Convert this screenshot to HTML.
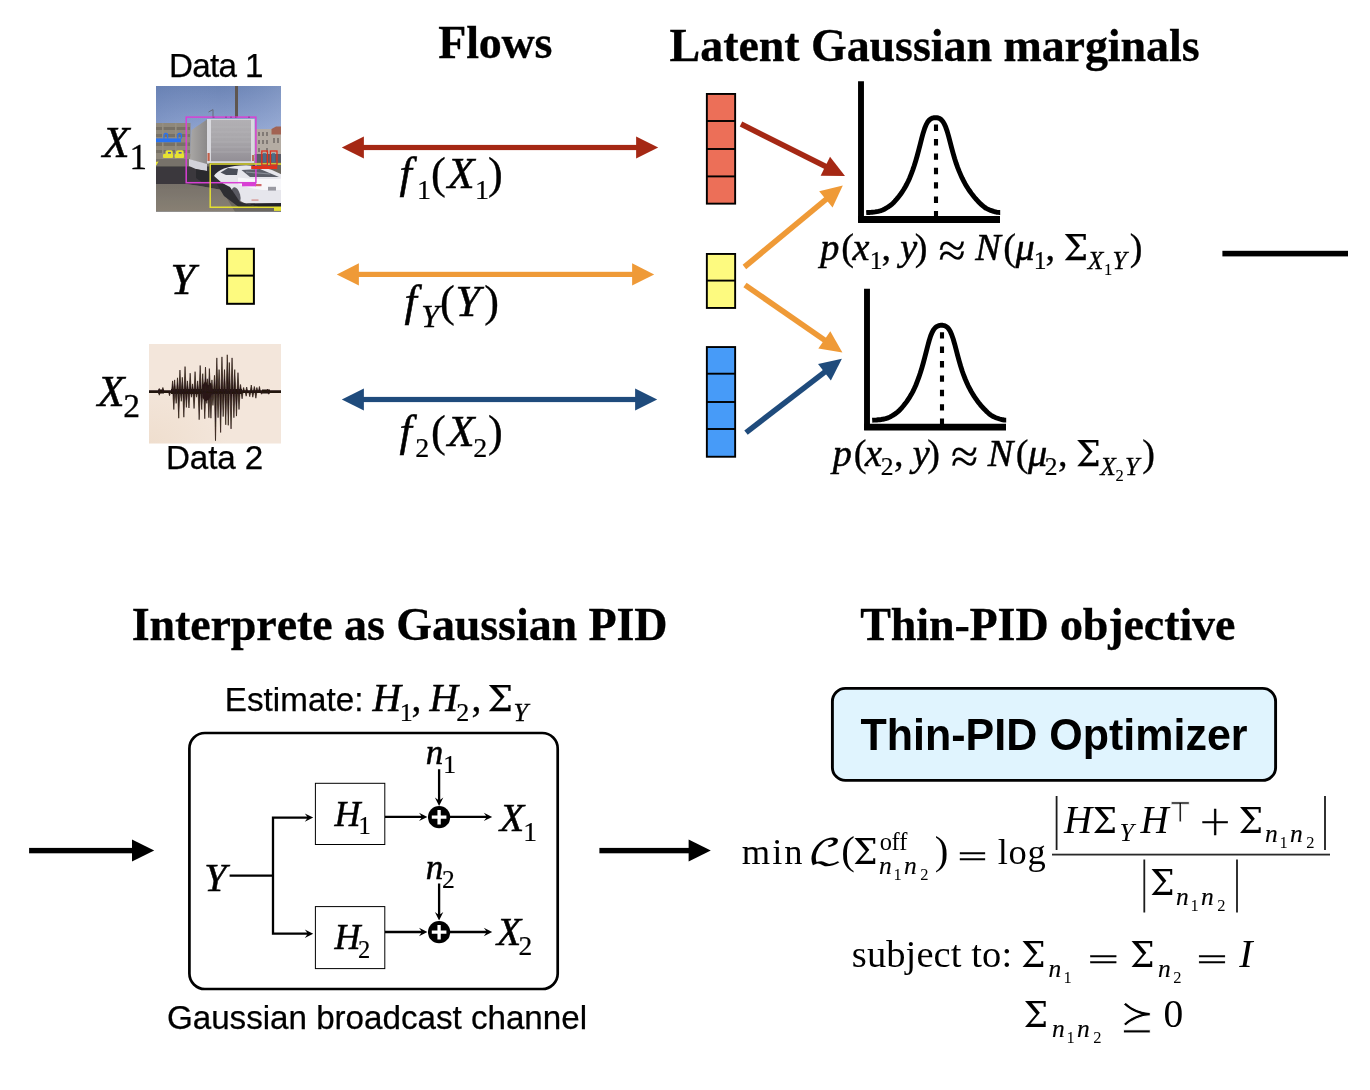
<!DOCTYPE html>
<html lang="en">
<head>
<meta charset="utf-8">
<title>Thin-PID pipeline</title>
<style>
html,body{margin:0;padding:0;background:#fff;}
body{width:1370px;height:1090px;overflow:hidden;}
svg{display:block;opacity:0.9999;}
text{fill:#000;white-space:pre;font-kerning:none;font-variant-ligatures:none;}
</style>
</head>
<body>
<svg width="1370" height="1090" viewBox="0 0 1370 1090">
<rect x="0" y="0" width="1370" height="1090" fill="#fff"/>
<defs>
<filter id="b1" x="-5%" y="-5%" width="110%" height="110%"><feGaussianBlur stdDeviation="0.7"/></filter>
<filter id="b0" x="-5%" y="-5%" width="110%" height="110%"><feGaussianBlur stdDeviation="0.35"/></filter>
<linearGradient id="sky" x1="0" y1="0" x2="0" y2="1"><stop offset="0" stop-color="#6c84b5"/><stop offset="0.3" stop-color="#8a9fcc"/><stop offset="0.5" stop-color="#a2b4da"/><stop offset="1" stop-color="#a2b4da"/></linearGradient>
<linearGradient id="skyh" x1="0" y1="0" x2="1" y2="0"><stop offset="0" stop-color="#5c78b0" stop-opacity="0.22"/><stop offset="0.5" stop-color="#8aa0cf" stop-opacity="0"/><stop offset="1" stop-color="#b4c4e4" stop-opacity="0.25"/></linearGradient>
<linearGradient id="gnd" x1="0" y1="0" x2="0" y2="1"><stop offset="0" stop-color="#77716a"/><stop offset="1" stop-color="#8b8375"/></linearGradient>
<linearGradient id="tback" x1="0" y1="0" x2="0" y2="1"><stop offset="0" stop-color="#b2b0b4"/><stop offset="0.5" stop-color="#a8a6aa"/><stop offset="1" stop-color="#938f96"/></linearGradient>
<linearGradient id="tside" x1="0" y1="0" x2="1" y2="0"><stop offset="0" stop-color="#a9a7a5"/><stop offset="1" stop-color="#8b8989"/></linearGradient>
<clipPath id="c1"><rect x="156" y="86" width="125" height="125.7"/></clipPath>
<clipPath id="c2"><rect x="149" y="344" width="132" height="99.7"/></clipPath>
<radialGradient id="wbg" cx="0" cy="1" r="0.6"><stop offset="0" stop-color="#efdece"/><stop offset="1" stop-color="#f3e6db"/></radialGradient>
</defs>
<text id="h1" ><tspan x="438.21" y="57.50" font-family='"Liberation Serif", serif' font-size="46.00" font-weight="bold" letter-spacing="-0.173" stroke="#000" stroke-width="0.30">Flows</tspan></text>
<text id="h2" ><tspan x="669.61" y="61.00" font-family='"Liberation Serif", serif' font-size="46.00" font-weight="bold" letter-spacing="-0.067" stroke="#000" stroke-width="0.30">Latent Gaussian marginals</tspan></text>
<text id="h3" ><tspan x="131.65" y="640.40" font-family='"Liberation Serif", serif' font-size="46.00" font-weight="bold" letter-spacing="-0.082" stroke="#000" stroke-width="0.30">Interprete as Gaussian PID</tspan></text>
<text id="h4" ><tspan x="860.18" y="640.40" font-family='"Liberation Serif", serif' font-size="46.00" font-weight="bold" letter-spacing="-0.100" stroke="#000" stroke-width="0.30">Thin-PID objective</tspan></text>
<text id="d1" ><tspan x="168.88" y="77.00" font-family='"Liberation Sans", sans-serif' font-size="33.20" letter-spacing="-0.654" stroke="#000" stroke-width="0.25">Data 1</tspan></text>
<text id="d2" ><tspan x="165.98" y="469.20" font-family='"Liberation Sans", sans-serif' font-size="33.20" letter-spacing="-0.085" stroke="#000" stroke-width="0.25">Data 2</tspan></text>
<text id="x1" ><tspan x="102.47" y="157.00" font-family='"Liberation Serif", serif' font-size="44.30" font-style="italic" stroke="#000" stroke-width="0.55">X</tspan><tspan x="129.42" y="169.00" font-family='"Liberation Serif", serif' font-size="35.00" stroke="#000" stroke-width="0.31">1</tspan></text>
<text id="yy" ><tspan x="170.46" y="293.90" font-family='"Liberation Serif", serif' font-size="44.50" font-style="italic" stroke="#000" stroke-width="0.55">Y</tspan></text>
<text id="x2" ><tspan x="97.47" y="406.00" font-family='"Liberation Serif", serif' font-size="44.30" font-style="italic" stroke="#000" stroke-width="0.55">X</tspan><tspan x="123.33" y="417.20" font-family='"Liberation Serif", serif' font-size="33.50" stroke="#000" stroke-width="0.29">2</tspan></text>
<g id="photo" clip-path="url(#c1)">
<rect x="156" y="86" width="125" height="126" fill="url(#sky)"/>
<rect x="156" y="86" width="125" height="126" fill="url(#skyh)"/>
<g filter="url(#b1)">
<rect x="150" y="154" width="135" height="62" fill="#6b665f"/>
<rect x="150" y="157" width="60" height="9.5" fill="#77726a"/>
<polygon points="150,166.5 212,166.5 212,176 222,190 200,186 186,184 150,184" fill="#3a383d"/>
<polygon points="150,184 186,184 200,186 222,190 235,212 150,216" fill="url(#gnd)"/>
<rect x="152" y="123" width="38.5" height="36" fill="#8f887a"/>
<g fill="#777166"><rect x="156" y="127" width="34" height="3"/><rect x="156" y="134" width="34" height="3"/><rect x="156" y="142.5" width="34" height="3.5"/><rect x="156" y="150" width="34" height="3"/></g>
<g fill="#958e80"><rect x="162" y="123" width="1.6" height="36"/><rect x="175" y="123" width="1.6" height="36"/><rect x="186" y="123" width="1.6" height="36"/></g>
<rect x="254.5" y="129" width="30" height="29" fill="#b4aca3"/>
<polygon points="271.5,129 276,126.5 285,126.5 285,134.5 271.5,134.5" fill="#a26452"/>
<g fill="#817a74"><rect x="258" y="132" width="2" height="4"/><rect x="262" y="132" width="2" height="4"/><rect x="266" y="132" width="2" height="4"/><rect x="258" y="140" width="2" height="4"/><rect x="262" y="140" width="2" height="4"/><rect x="266" y="140" width="2" height="4"/><rect x="273" y="138" width="2" height="5"/><rect x="277" y="138" width="2" height="5"/><rect x="258" y="148" width="2" height="4"/><rect x="266" y="148" width="2" height="4"/></g>
<rect x="254.5" y="154" width="30" height="8" fill="#5a5c66"/>
<rect x="235" y="84" width="3" height="33.5" fill="#5f5650"/>
<path d="M208.5,112 L213,109.6 L213,117" stroke="#66676f" stroke-width="0.9" fill="none"/>
<polygon points="191.5,130 207,119.5 207,164.5 190,159.5" fill="url(#tside)"/>
<polygon points="189,159 207,164 207,171 197,169.5 189,166" fill="#d2d2da"/>
<polygon points="196,169 209.5,171.5 209.5,181 203,183 196,178" fill="#2b2a2e"/>
<rect x="207" y="119" width="47.5" height="44.5" fill="#d9d9de"/>
<rect x="211" y="119.8" width="40" height="41.4" fill="url(#tback)"/>
<g stroke="#b9b8bc" stroke-width="0.6" opacity="0.7"><path d="M211,127 H251 M211,132 H251 M211,137 H251 M211,142 H251 M211,147 H251 M211,152 H251"/></g>
<rect x="207.5" y="153" width="2.2" height="8" fill="#c2604a"/>
<rect x="252" y="155" width="2" height="6" fill="#b8705e"/>
<rect x="209.5" y="163" width="45" height="21" fill="#2c2b30"/>
<path d="M214,176 Q217,171 224,168.5 Q236,164.8 250,165.4 Q262,166.2 272,170 L285,176 L285,203 L246,203.5 Q240,202 236,196 Q230,187 222,183 Q215,180 214,176 Z" fill="#e6e6ec"/>
<path d="M238,177.5 Q262,180 285,178.5 L285,190 L262,190 Q248,188 238,184 Z" fill="#f7f7fa"/>
<polygon points="220.5,172.5 228,168 238,169 237,175 226,175" fill="#4a4e58"/>
<polygon points="241.5,170 260,169 279,177 250,177" fill="#5b5f69"/>
<path d="M246,172 L270,174" stroke="#8a8e98" stroke-width="1.2"/>
<ellipse cx="236" cy="195.5" rx="4.2" ry="8.5" fill="#5a5a62" transform="rotate(-14 236 195.5)"/>
<rect x="255" y="184" width="6.5" height="2.2" fill="#d06a6a"/>
<rect x="251.5" y="199.3" width="7" height="1.6" fill="#d8a0a0"/>
<rect x="268" y="186.8" width="8" height="3.8" fill="#9a9aa2"/>
<polygon points="246,203.5 285,203 285,207 260,207.5" fill="#24232a"/>
<polygon points="212,176 214,176 222,183 230,187 236,196 240,202 246,203.5 260,207.5 240,208 224,196" fill="#2e2d33"/>
</g>
<g filter="url(#b0)" fill="none">
<rect x="186.2" y="117.1" width="69.7" height="65.6" stroke="#d840d4" stroke-width="1.5"/>
<rect x="242" y="182.5" width="14" height="3.8" fill="#d840d4" stroke="none"/>
<path d="M212.5,117.2 h2 M225,117.2 h2 M230,117.2 h2 M235,117.2 h1.5 M248,117.2 h2" stroke="#8a2c8a" stroke-width="0.8"/>
<path d="M282,163.9 L210.2,163.9 L210.2,207.3 L282,207.3" stroke="#e3df33" stroke-width="1.5"/>
<rect x="274" y="207.5" width="8" height="3.4" fill="#e3df33" stroke="none"/>
<rect x="155" y="138.4" width="26" height="3.8" fill="#2b73f0" stroke="none"/>
<path d="M164,138.5 v-3.2 a1.8,1.8 0 0 1 3.6,0 v3.2 M177.8,138.5 v-3.2 a1.8,1.8 0 0 1 3.6,0 v3.2" stroke="#2b73f0" stroke-width="1.3"/>
<g fill="#e6e232" stroke="none"><rect x="165.5" y="150.2" width="7.2" height="7.6" rx="1.6"/><rect x="163" y="154" width="10" height="4" rx="1"/><rect x="176" y="150.2" width="7.6" height="7.6" rx="1.6"/><rect x="174.6" y="154" width="9.4" height="4" rx="1"/><polygon points="155,162 158.6,161.5 156.5,165.2 155,165.2"/></g>
<g fill="#5a5ab0" stroke="none"><rect x="168" y="152" width="3" height="1.6"/><rect x="178.6" y="152" width="3" height="1.6"/></g>
<g fill="#4a7090" stroke="none" opacity="0.8"><rect x="263" y="153" width="3" height="9"/><rect x="272" y="153" width="3" height="9"/></g>
<rect x="261.8" y="151" width="5.6" height="14" stroke="#e0301f" stroke-width="1.3"/>
<rect x="270.4" y="151" width="6.6" height="14" stroke="#e0301f" stroke-width="1.3"/>
<rect x="251.2" y="166" width="26" height="3" fill="#e0301f" stroke="none"/>
</g>
</g>
<g id="ybox" stroke="#000" stroke-width="2.0" fill="#fdfa7f">
<rect x="227.10" y="248.80" width="26.80" height="55.00"/>
<line x1="227.10" y1="275.60" x2="253.90" y2="275.60"/>
</g>
<g id="wave" clip-path="url(#c2)">
<rect x="149" y="344" width="132" height="99.7" fill="url(#wbg)"/>
<g filter="url(#b0)">
<path d="M149,391.6 L281,391.6" stroke="#23140f" stroke-width="2.8" fill="none"/>
<path d="M158,391.6 L164,391.6 M262,391.6 L270,391.6" stroke="#23140f" stroke-width="4" fill="none"/>
<path d="M171,391.6 L242,391.6" stroke="#23140f" stroke-width="5" fill="none"/>
<path d="M202,386.6 L205.5,380.6 L208,385.6 L211,382.6 L213,391.6 L209,399.6 L205,401.6 L202.5,397.6 Z" fill="#2a1a14"/>
<path d="M158.26,391.6 L159.31,388.5 L160.36,391.6 Z M161.83,391.6 L162.88,387.5 L163.93,391.6 Z M171.54,391.6 L172.59,380.9 L173.64,391.6 Z M173.58,391.6 L174.63,379.9 L175.68,391.6 Z M176.45,391.6 L177.50,377.8 L178.55,391.6 Z M178.90,391.6 L179.95,370.1 L181.00,391.6 Z M181.25,391.6 L182.30,377.3 L183.35,391.6 Z M184.01,391.6 L185.06,366.6 L186.11,391.6 Z M186.36,391.6 L187.41,380.9 L188.46,391.6 Z M189.12,391.6 L190.17,373.2 L191.22,391.6 Z M191.47,391.6 L192.52,383.9 L193.57,391.6 Z M194.02,391.6 L195.07,371.7 L196.12,391.6 Z M196.58,391.6 L197.63,380.9 L198.68,391.6 Z M199.13,391.6 L200.18,365.5 L201.23,391.6 Z M201.69,391.6 L202.74,373.7 L203.79,391.6 Z M204.44,391.6 L205.49,367.1 L206.54,391.6 Z M206.28,391.6 L207.33,378.8 L208.38,391.6 Z M208.33,391.6 L209.38,368.6 L210.43,391.6 Z M210.88,391.6 L211.93,379.9 L212.98,391.6 Z M213.44,391.6 L214.49,375.3 L215.54,391.6 Z M215.79,391.6 L216.84,357.9 L217.89,391.6 Z M218.04,391.6 L219.09,369.6 L220.14,391.6 Z M220.90,391.6 L221.95,356.9 L223.00,391.6 Z M223.45,391.6 L224.50,369.6 L225.55,391.6 Z M226.21,391.6 L227.26,354.8 L228.31,391.6 Z M228.25,391.6 L229.30,362.5 L230.35,391.6 Z M231.01,391.6 L232.06,357.9 L233.11,391.6 Z M233.67,391.6 L234.72,369.6 L235.77,391.6 Z M236.94,391.6 L237.99,372.7 L239.04,391.6 Z M239.49,391.6 L240.54,384.5 L241.59,391.6 Z M242.56,391.6 L243.61,387.5 L244.66,391.6 Z M245.63,391.6 L246.68,387.0 L247.73,391.6 Z M250.22,391.6 L251.27,385.0 L252.32,391.6 Z M253.29,391.6 L254.34,386.5 L255.39,391.6 Z M255.84,391.6 L256.89,387.5 L257.94,391.6 Z M258.40,391.6 L259.45,386.5 L260.50,391.6 Z M266.57,391.6 L267.62,389.0 L268.67,391.6 Z M158.26,391.6 L159.31,395.2 L160.36,391.6 Z M168.47,391.6 L169.52,395.7 L170.57,391.6 Z M172.77,391.6 L173.82,409.5 L174.87,391.6 Z M175.12,391.6 L176.17,403.4 L177.22,391.6 Z M177.67,391.6 L178.72,418.2 L179.77,391.6 Z M180.23,391.6 L181.28,401.3 L182.33,391.6 Z M182.78,391.6 L183.83,417.2 L184.88,391.6 Z M185.34,391.6 L186.39,407.4 L187.44,391.6 Z M187.89,391.6 L188.94,408.0 L189.99,391.6 Z M190.44,391.6 L191.49,397.2 L192.54,391.6 Z M193.00,391.6 L194.05,408.5 L195.10,391.6 Z M195.55,391.6 L196.60,397.2 L197.65,391.6 Z M198.11,391.6 L199.16,419.7 L200.21,391.6 Z M200.66,391.6 L201.71,409.5 L202.76,391.6 Z M203.73,391.6 L204.78,418.7 L205.83,391.6 Z M205.77,391.6 L206.82,403.4 L207.87,391.6 Z M207.82,391.6 L208.87,417.7 L209.92,391.6 Z M209.86,391.6 L210.91,418.2 L211.96,391.6 Z M211.90,391.6 L212.95,405.4 L214.00,391.6 Z M214.46,391.6 L215.51,440.7 L216.56,391.6 Z M217.01,391.6 L218.06,417.7 L219.11,391.6 Z M219.57,391.6 L220.62,432.5 L221.67,391.6 Z M222.12,391.6 L223.17,416.6 L224.22,391.6 Z M224.68,391.6 L225.73,424.8 L226.78,391.6 Z M227.23,391.6 L228.28,425.3 L229.33,391.6 Z M229.99,391.6 L231.04,428.9 L232.09,391.6 Z M232.85,391.6 L233.90,417.7 L234.95,391.6 Z M235.41,391.6 L236.46,416.1 L237.51,391.6 Z M237.96,391.6 L239.01,409.5 L240.06,391.6 Z M241.03,391.6 L242.08,398.8 L243.13,391.6 Z M245.11,391.6 L246.16,396.2 L247.21,391.6 Z M248.69,391.6 L249.74,396.7 L250.79,391.6 Z M251.76,391.6 L252.81,397.2 L253.86,391.6 Z M254.82,391.6 L255.87,398.2 L256.92,391.6 Z M260.44,391.6 L261.49,394.2 L262.54,391.6 Z M267.60,391.6 L268.65,394.2 L269.70,391.6 Z" fill="#2a1a14" stroke="#2a1a14" stroke-width="0.7" stroke-linejoin="round"/>
</g>
</g>
<g id="ar1" fill="#a52814"><rect x="362.90" y="144.90" width="274.20" height="5.2"/><polygon points="341.8,147.5 363.90000000000003,136.4 363.90000000000003,158.6"/><polygon points="658.2,147.5 636.1,136.4 636.1,158.6"/></g>
<g id="ar2" fill="#ef9a37"><rect x="357.90" y="271.80" width="275.20" height="5.2"/><polygon points="336.8,274.4 358.90000000000003,263.29999999999995 358.90000000000003,285.5"/><polygon points="654.2,274.4 632.1,263.29999999999995 632.1,285.5"/></g>
<g id="ar3" fill="#1f4b7c"><rect x="362.90" y="396.90" width="273.20" height="5.2"/><polygon points="341.8,399.5 363.90000000000003,388.4 363.90000000000003,410.6"/><polygon points="657.2,399.5 635.1,388.4 635.1,410.6"/></g>
<text id="f1" ><tspan x="399.50" y="187.50" font-family='"Liberation Serif", serif' font-size="44.30" font-style="italic" stroke="#000" stroke-width="0.55">f</tspan><tspan x="417.04" y="199.00" font-family='"Liberation Serif", serif' font-size="28.00" stroke="#000" stroke-width="0.24">1</tspan><tspan x="431.05" y="187.50" font-family='"Liberation Serif", serif' font-size="44.30" stroke="#000" stroke-width="0.35">(</tspan><tspan x="447.47" y="187.50" font-family='"Liberation Serif", serif' font-size="44.30" font-style="italic" stroke="#000" stroke-width="0.55">X</tspan><tspan x="475.04" y="199.00" font-family='"Liberation Serif", serif' font-size="28.00" stroke="#000" stroke-width="0.24">1</tspan><tspan x="488.07" y="187.50" font-family='"Liberation Serif", serif' font-size="44.30" stroke="#000" stroke-width="0.35">)</tspan></text>
<text id="fy" ><tspan x="404.50" y="316.00" font-family='"Liberation Serif", serif' font-size="44.30" font-style="italic" stroke="#000" stroke-width="0.55">f</tspan><tspan x="421.17" y="327.00" font-family='"Liberation Serif", serif' font-size="32.00" font-style="italic" stroke="#000" stroke-width="0.44">Y</tspan><tspan x="440.05" y="316.00" font-family='"Liberation Serif", serif' font-size="44.30" stroke="#000" stroke-width="0.35">(</tspan><tspan x="455.47" y="316.00" font-family='"Liberation Serif", serif' font-size="44.30" font-style="italic" stroke="#000" stroke-width="0.55">Y</tspan><tspan x="484.17" y="316.00" font-family='"Liberation Serif", serif' font-size="44.30" stroke="#000" stroke-width="0.35">)</tspan></text>
<text id="f2" ><tspan x="399.50" y="445.50" font-family='"Liberation Serif", serif' font-size="44.30" font-style="italic" stroke="#000" stroke-width="0.55">f</tspan><tspan x="415.27" y="456.50" font-family='"Liberation Serif", serif' font-size="28.00" stroke="#000" stroke-width="0.24">2</tspan><tspan x="431.05" y="445.50" font-family='"Liberation Serif", serif' font-size="44.30" stroke="#000" stroke-width="0.35">(</tspan><tspan x="447.47" y="445.50" font-family='"Liberation Serif", serif' font-size="44.30" font-style="italic" stroke="#000" stroke-width="0.55">X</tspan><tspan x="473.27" y="456.50" font-family='"Liberation Serif", serif' font-size="28.00" stroke="#000" stroke-width="0.24">2</tspan><tspan x="488.07" y="445.50" font-family='"Liberation Serif", serif' font-size="44.30" stroke="#000" stroke-width="0.35">)</tspan></text>
<g id="v1" stroke="#000" stroke-width="1.9" fill="#ec6f58">
<rect x="706.85" y="93.95" width="28.30" height="109.70"/>
<line x1="706.85" y1="121.00" x2="735.15" y2="121.00"/>
<line x1="706.85" y1="149.00" x2="735.15" y2="149.00"/>
<line x1="706.85" y1="176.40" x2="735.15" y2="176.40"/>
</g>
<g id="v2" stroke="#000" stroke-width="1.9" fill="#fdfa7f">
<rect x="706.85" y="253.95" width="28.30" height="54.00"/>
<line x1="706.85" y1="280.60" x2="735.15" y2="280.60"/>
</g>
<g id="v3" stroke="#000" stroke-width="1.9" fill="#479bf8">
<rect x="706.85" y="347.05" width="28.30" height="109.70"/>
<line x1="706.85" y1="373.70" x2="735.15" y2="373.70"/>
<line x1="706.85" y1="402.00" x2="735.15" y2="402.00"/>
<line x1="706.85" y1="429.00" x2="735.15" y2="429.00"/>
</g>
<g id="a1"><line x1="741.00" y1="124.00" x2="826.22" y2="166.69" stroke="#a52814" stroke-width="5.6"/><polygon points="845.00,176.10 820.63,175.63 830.03,156.86" fill="#a52814"/></g>
<g id="a2"><line x1="744.40" y1="267.00" x2="826.64" y2="198.81" stroke="#ef9a37" stroke-width="5.6"/><polygon points="842.80,185.40 832.57,207.53 819.16,191.36" fill="#ef9a37"/></g>
<g id="a3"><line x1="745.00" y1="285.00" x2="825.14" y2="340.54" stroke="#ef9a37" stroke-width="5.6"/><polygon points="842.40,352.50 818.34,348.60 830.30,331.34" fill="#ef9a37"/></g>
<g id="a4"><line x1="746.00" y1="432.60" x2="825.26" y2="371.61" stroke="#1f4b7c" stroke-width="5.6"/><polygon points="841.90,358.80 830.87,380.54 818.06,363.90" fill="#1f4b7c"/></g>
<g id="p1" transform="translate(0,0)" fill="none" stroke="#000">
<path d="M861,81.2 L861,219.5 L1000,219.5" stroke-width="5.9" stroke-linejoin="miter"/>
<path d="M858.1,219.5 L1000,219.5" stroke-width="6.8"/>
<path d="M866.2,212.6 L867.7,212.5 L869.2,212.5 L870.7,212.4 L872.2,212.2 L873.7,212.1 L875.2,211.9 L876.7,211.6 L878.2,211.4 L879.7,211.0 L881.2,210.6 L882.7,210.0 L884.2,209.3 L885.7,208.4 L887.2,207.5 L888.7,206.6 L890.2,205.5 L891.7,204.3 L893.2,203.0 L894.7,201.4 L896.2,199.7 L897.7,197.9 L899.2,196.0 L900.7,194.0 L902.2,191.8 L903.7,189.5 L905.2,187.0 L906.7,184.3 L908.2,181.2 L909.7,177.9 L911.2,174.1 L912.7,170.1 L914.2,165.7 L915.7,160.9 L917.2,155.7 L918.7,150.1 L920.2,144.3 L921.7,138.4 L923.2,132.9 L924.7,128.2 L926.2,124.6 L927.7,121.9 L929.2,120.1 L930.7,119.0 L932.2,118.2 L933.7,117.8 L935.2,117.6 L936.7,117.7 L938.2,118.0 L939.7,118.6 L941.2,119.6 L942.7,121.3 L944.2,123.7 L945.7,127.1 L947.2,131.4 L948.7,136.6 L950.2,142.3 L951.7,148.1 L953.2,153.6 L954.7,158.7 L956.2,163.4 L957.7,167.6 L959.2,171.4 L960.7,174.9 L962.2,178.2 L963.7,181.1 L965.2,183.9 L966.7,186.4 L968.2,188.8 L969.7,191.0 L971.2,193.1 L972.7,195.1 L974.2,197.0 L975.7,198.8 L977.2,200.4 L978.7,202.0 L980.2,203.5 L981.7,204.9 L983.2,206.2 L984.7,207.4 L986.2,208.4 L987.7,209.1 L989.2,209.8 L990.7,210.4 L992.2,210.9 L993.7,211.4 L995.2,211.8 L996.7,212.2 L998.2,212.4 L999.7,212.5 L1000.2,212.5" stroke-width="4.9" stroke-linejoin="round"/>
<path d="M936,124.6 L936,217" stroke-width="4.1" stroke-dasharray="6.4 8"/>
</g>
<g id="p2" transform="translate(6,207.6)" fill="none" stroke="#000">
<path d="M861,81.2 L861,219.5 L1000,219.5" stroke-width="5.9" stroke-linejoin="miter"/>
<path d="M858.1,219.5 L1000,219.5" stroke-width="6.8"/>
<path d="M866.2,212.6 L867.7,212.5 L869.2,212.5 L870.7,212.4 L872.2,212.2 L873.7,212.1 L875.2,211.9 L876.7,211.6 L878.2,211.4 L879.7,211.0 L881.2,210.6 L882.7,210.0 L884.2,209.3 L885.7,208.4 L887.2,207.5 L888.7,206.6 L890.2,205.5 L891.7,204.3 L893.2,203.0 L894.7,201.4 L896.2,199.7 L897.7,197.9 L899.2,196.0 L900.7,194.0 L902.2,191.8 L903.7,189.5 L905.2,187.0 L906.7,184.3 L908.2,181.2 L909.7,177.9 L911.2,174.1 L912.7,170.1 L914.2,165.7 L915.7,160.9 L917.2,155.7 L918.7,150.1 L920.2,144.3 L921.7,138.4 L923.2,132.9 L924.7,128.2 L926.2,124.6 L927.7,121.9 L929.2,120.1 L930.7,119.0 L932.2,118.2 L933.7,117.8 L935.2,117.6 L936.7,117.7 L938.2,118.0 L939.7,118.6 L941.2,119.6 L942.7,121.3 L944.2,123.7 L945.7,127.1 L947.2,131.4 L948.7,136.6 L950.2,142.3 L951.7,148.1 L953.2,153.6 L954.7,158.7 L956.2,163.4 L957.7,167.6 L959.2,171.4 L960.7,174.9 L962.2,178.2 L963.7,181.1 L965.2,183.9 L966.7,186.4 L968.2,188.8 L969.7,191.0 L971.2,193.1 L972.7,195.1 L974.2,197.0 L975.7,198.8 L977.2,200.4 L978.7,202.0 L980.2,203.5 L981.7,204.9 L983.2,206.2 L984.7,207.4 L986.2,208.4 L987.7,209.1 L989.2,209.8 L990.7,210.4 L992.2,210.9 L993.7,211.4 L995.2,211.8 L996.7,212.2 L998.2,212.4 L999.7,212.5 L1000.2,212.5" stroke-width="4.9" stroke-linejoin="round"/>
<path d="M936,124.6 L936,217" stroke-width="4.1" stroke-dasharray="6.4 8"/>
</g>
<text id="pl1" ><tspan x="820.24" y="260.00" font-family='"Liberation Serif", serif' font-size="38.20" font-style="italic" stroke="#000" stroke-width="0.53">p</tspan><tspan x="841.32" y="260.00" font-family='"Liberation Serif", serif' font-size="38.20" stroke="#000" stroke-width="0.33">(</tspan><tspan x="852.47" y="260.00" font-family='"Liberation Serif", serif' font-size="38.20" font-style="italic" stroke="#000" stroke-width="0.53">x</tspan><tspan x="869.76" y="269.00" font-family='"Liberation Serif", serif' font-size="25.50" stroke="#000" stroke-width="0.22">1</tspan><tspan x="881.55" y="260.00" font-family='"Liberation Serif", serif' font-size="38.20" stroke="#000" stroke-width="0.33">,</tspan><tspan x="890.00" y="260.00" font-family='"Liberation Serif", serif' font-size="38.20"> </tspan><tspan x="900.19" y="260.00" font-family='"Liberation Serif", serif' font-size="38.20" font-style="italic" stroke="#000" stroke-width="0.53">y</tspan><tspan x="914.77" y="260.00" font-family='"Liberation Serif", serif' font-size="38.20" stroke="#000" stroke-width="0.33">)</tspan><tspan x="930.00" y="260.00" font-family='"Liberation Serif", serif' font-size="38.20"> </tspan><tspan x="938.62" y="267.40" font-family='"Liberation Serif", serif' font-size="49.55" stroke="#000" stroke-width="0.20">≈</tspan><tspan x="966.00" y="260.00" font-family='"Liberation Serif", serif' font-size="38.20"> </tspan><tspan x="975.28" y="260.00" font-family='"Liberation Serif", serif' font-size="38.20" font-style="italic" stroke="#000" stroke-width="0.53">N</tspan><tspan x="1003.32" y="260.00" font-family='"Liberation Serif", serif' font-size="38.20" stroke="#000" stroke-width="0.33">(</tspan><tspan x="1015.54" y="260.00" font-family='"Liberation Serif", serif' font-size="38.20" font-style="italic" stroke="#000" stroke-width="0.53">μ</tspan><tspan x="1033.76" y="269.00" font-family='"Liberation Serif", serif' font-size="25.50" stroke="#000" stroke-width="0.22">1</tspan><tspan x="1045.55" y="260.00" font-family='"Liberation Serif", serif' font-size="38.20" stroke="#000" stroke-width="0.33">,</tspan><tspan x="1055.00" y="260.00" font-family='"Liberation Serif", serif' font-size="38.20"> </tspan><tspan x="1062.23" y="260.00" font-family='"DejaVu Math TeX Gyre", "DejaVu Sans", serif' font-size="34.57" stroke="#000" stroke-width="0.25">Σ</tspan><tspan x="1087.85" y="269.00" font-family='"Liberation Serif", serif' font-size="25.50" font-style="italic" stroke="#000" stroke-width="0.35">X</tspan><tspan x="1103.95" y="275.00" font-family='"Liberation Serif", serif' font-size="16.50" stroke="#000" stroke-width="0.14">1</tspan><tspan x="1112.54" y="269.00" font-family='"Liberation Serif", serif' font-size="25.50" font-style="italic" stroke="#000" stroke-width="0.35">Y</tspan><tspan x="1129.77" y="260.00" font-family='"Liberation Serif", serif' font-size="38.20" stroke="#000" stroke-width="0.33">)</tspan></text>
<text id="pl2" ><tspan x="832.74" y="466.00" font-family='"Liberation Serif", serif' font-size="38.20" font-style="italic" stroke="#000" stroke-width="0.53">p</tspan><tspan x="853.82" y="466.00" font-family='"Liberation Serif", serif' font-size="38.20" stroke="#000" stroke-width="0.33">(</tspan><tspan x="864.97" y="466.00" font-family='"Liberation Serif", serif' font-size="38.20" font-style="italic" stroke="#000" stroke-width="0.53">x</tspan><tspan x="880.78" y="475.00" font-family='"Liberation Serif", serif' font-size="25.50" stroke="#000" stroke-width="0.22">2</tspan><tspan x="894.05" y="466.00" font-family='"Liberation Serif", serif' font-size="38.20" stroke="#000" stroke-width="0.33">,</tspan><tspan x="902.50" y="466.00" font-family='"Liberation Serif", serif' font-size="38.20"> </tspan><tspan x="912.69" y="466.00" font-family='"Liberation Serif", serif' font-size="38.20" font-style="italic" stroke="#000" stroke-width="0.53">y</tspan><tspan x="927.27" y="466.00" font-family='"Liberation Serif", serif' font-size="38.20" stroke="#000" stroke-width="0.33">)</tspan><tspan x="942.50" y="466.00" font-family='"Liberation Serif", serif' font-size="38.20"> </tspan><tspan x="951.12" y="473.40" font-family='"Liberation Serif", serif' font-size="49.55" stroke="#000" stroke-width="0.20">≈</tspan><tspan x="978.50" y="466.00" font-family='"Liberation Serif", serif' font-size="38.20"> </tspan><tspan x="987.78" y="466.00" font-family='"Liberation Serif", serif' font-size="38.20" font-style="italic" stroke="#000" stroke-width="0.53">N</tspan><tspan x="1015.82" y="466.00" font-family='"Liberation Serif", serif' font-size="38.20" stroke="#000" stroke-width="0.33">(</tspan><tspan x="1028.04" y="466.00" font-family='"Liberation Serif", serif' font-size="38.20" font-style="italic" stroke="#000" stroke-width="0.53">μ</tspan><tspan x="1044.78" y="475.00" font-family='"Liberation Serif", serif' font-size="25.50" stroke="#000" stroke-width="0.22">2</tspan><tspan x="1058.05" y="466.00" font-family='"Liberation Serif", serif' font-size="38.20" stroke="#000" stroke-width="0.33">,</tspan><tspan x="1067.50" y="466.00" font-family='"Liberation Serif", serif' font-size="38.20"> </tspan><tspan x="1074.73" y="466.00" font-family='"DejaVu Math TeX Gyre", "DejaVu Sans", serif' font-size="34.57" stroke="#000" stroke-width="0.25">Σ</tspan><tspan x="1100.35" y="475.00" font-family='"Liberation Serif", serif' font-size="25.50" font-style="italic" stroke="#000" stroke-width="0.35">X</tspan><tspan x="1115.61" y="481.00" font-family='"Liberation Serif", serif' font-size="16.50" stroke="#000" stroke-width="0.14">2</tspan><tspan x="1125.04" y="475.00" font-family='"Liberation Serif", serif' font-size="25.50" font-style="italic" stroke="#000" stroke-width="0.35">Y</tspan><tspan x="1142.27" y="466.00" font-family='"Liberation Serif", serif' font-size="38.20" stroke="#000" stroke-width="0.33">)</tspan></text>
<rect id="rline" x="1222.4" y="250.8" width="125.6" height="5.6" fill="#000"/>
<g id="ba1" fill="#000"><rect x="29.1" y="847.9" width="103.9" height="5.4"/><polygon points="154.2,850.6 132.0,839.6 132.0,861.6"/></g>
<g id="ba2" fill="#000"><rect x="599.4" y="847.9" width="90.19999999999993" height="5.4"/><polygon points="710.8,850.6 688.5999999999999,839.6 688.5999999999999,861.6"/></g>
<text id="est" ><tspan x="224.68" y="711.00" font-family='"Liberation Sans", sans-serif' font-size="33.20" letter-spacing="0.072" stroke="#000" stroke-width="0.25">Estimate:</tspan><tspan x="362.00" y="711.00" font-family='"Liberation Sans", sans-serif' font-size="33.20"> </tspan><tspan x="372.42" y="711.00" font-family='"Liberation Serif", serif' font-size="39.50" font-style="italic" stroke="#000" stroke-width="0.54">H</tspan><tspan x="399.71" y="720.60" font-family='"Liberation Serif", serif' font-size="26.00" stroke="#000" stroke-width="0.23">1</tspan><tspan x="411.50" y="711.00" font-family='"Liberation Serif", serif' font-size="39.50" stroke="#000" stroke-width="0.35">,</tspan><tspan x="420.00" y="711.00" font-family='"Liberation Serif", serif' font-size="39.50"> </tspan><tspan x="429.42" y="711.00" font-family='"Liberation Serif", serif' font-size="39.50" font-style="italic" stroke="#000" stroke-width="0.54">H</tspan><tspan x="456.36" y="720.60" font-family='"Liberation Serif", serif' font-size="26.00" stroke="#000" stroke-width="0.23">2</tspan><tspan x="471.50" y="711.00" font-family='"Liberation Serif", serif' font-size="39.50" stroke="#000" stroke-width="0.35">,</tspan><tspan x="480.00" y="711.00" font-family='"Liberation Serif", serif' font-size="39.50"> </tspan><tspan x="486.15" y="711.00" font-family='"DejaVu Math TeX Gyre", "DejaVu Sans", serif' font-size="35.67" stroke="#000" stroke-width="0.25">Σ</tspan><tspan x="513.51" y="720.60" font-family='"Liberation Serif", serif' font-size="26.00" font-style="italic" stroke="#000" stroke-width="0.36">Y</tspan></text>
<text id="gbc" ><tspan x="166.93" y="1029.00" font-family='"Liberation Sans", sans-serif' font-size="33.20" letter-spacing="-0.021" stroke="#000" stroke-width="0.25">Gaussian broadcast channel</tspan></text>
<rect id="cbox" x="189.4" y="733" width="368.3" height="256" rx="15.5" ry="15.5" fill="none" stroke="#000" stroke-width="2.7"/>
<g id="chan" fill="none" stroke="#000" stroke-width="2.3">
<rect x="315.4" y="783.3" width="69.4" height="61.2" stroke-width="1"/>
<rect x="315.4" y="906.6" width="69.4" height="62" stroke-width="1"/>
<path d="M229.6,875.7 L273,875.7"/>
<path d="M308,817.6 L273,817.6 L273,933.7 L308,933.7" stroke-linejoin="miter"/>
<path d="M385,816.9 L422,816.9 M450,816.9 L487,816.9"/>
<path d="M385,932 L422,932 M450,932 L487,932"/>
<path d="M439.1,769.2 L439.1,801 M439.1,883.6 L439.1,915"/>
</g>
<g id="heads" fill="#000">
<path transform="translate(313.2,817.6) rotate(0)" d="M0,0 L-8.4,-4.2 Q-6.2,-1.6 -5.6,0 Q-6.2,1.6 -8.4,4.2 Z"/>
<path transform="translate(313.2,933.7) rotate(0)" d="M0,0 L-8.4,-4.2 Q-6.2,-1.6 -5.6,0 Q-6.2,1.6 -8.4,4.2 Z"/>
<path transform="translate(427.4,816.9) rotate(0)" d="M0,0 L-8.4,-4.2 Q-6.2,-1.6 -5.6,0 Q-6.2,1.6 -8.4,4.2 Z"/>
<path transform="translate(427.4,932) rotate(0)" d="M0,0 L-8.4,-4.2 Q-6.2,-1.6 -5.6,0 Q-6.2,1.6 -8.4,4.2 Z"/>
<path transform="translate(492.2,816.9) rotate(0)" d="M0,0 L-8.4,-4.2 Q-6.2,-1.6 -5.6,0 Q-6.2,1.6 -8.4,4.2 Z"/>
<path transform="translate(492.2,932) rotate(0)" d="M0,0 L-8.4,-4.2 Q-6.2,-1.6 -5.6,0 Q-6.2,1.6 -8.4,4.2 Z"/>
<path transform="translate(439.1,805.9) rotate(90)" d="M0,0 L-8.4,-4.2 Q-6.2,-1.6 -5.6,0 Q-6.2,1.6 -8.4,4.2 Z"/>
<path transform="translate(439.1,920.4) rotate(90)" d="M0,0 L-8.4,-4.2 Q-6.2,-1.6 -5.6,0 Q-6.2,1.6 -8.4,4.2 Z"/>
</g>
<g><circle cx="439.1" cy="817.2" r="11.1" fill="#000"/><path d="M431.8,817.2 L446.40000000000003,817.2 M439.1,809.9000000000001 L439.1,824.5" stroke="#fff" stroke-width="3.3" fill="none"/></g>
<g><circle cx="439.1" cy="932.2" r="11.1" fill="#000"/><path d="M431.8,932.2 L446.40000000000003,932.2 M439.1,924.9000000000001 L439.1,939.5" stroke="#fff" stroke-width="3.3" fill="none"/></g>
<text id="cy" ><tspan x="204.31" y="891.00" font-family='"Liberation Serif", serif' font-size="40.00" font-style="italic" stroke="#000" stroke-width="0.55">Y</tspan></text>
<text id="ch1" ><tspan x="334.39" y="826.00" font-family='"Liberation Serif", serif' font-size="36.00" font-style="italic" stroke="#000" stroke-width="0.50">H</tspan><tspan x="358.45" y="834.40" font-family='"Liberation Serif", serif' font-size="24.50" stroke="#000" stroke-width="0.21">1</tspan></text>
<text id="ch2" ><tspan x="334.39" y="949.00" font-family='"Liberation Serif", serif' font-size="36.00" font-style="italic" stroke="#000" stroke-width="0.50">H</tspan><tspan x="358.12" y="958.00" font-family='"Liberation Serif", serif' font-size="24.50" stroke="#000" stroke-width="0.21">2</tspan></text>
<text id="cn1" ><tspan x="425.75" y="764.00" font-family='"Liberation Serif", serif' font-size="35.00" font-style="italic" stroke="#000" stroke-width="0.48">n</tspan><tspan x="443.36" y="773.20" font-family='"Liberation Serif", serif' font-size="25.50" stroke="#000" stroke-width="0.22">1</tspan></text>
<text id="cn2" ><tspan x="425.75" y="879.00" font-family='"Liberation Serif", serif' font-size="35.00" font-style="italic" stroke="#000" stroke-width="0.48">n</tspan><tspan x="442.08" y="887.60" font-family='"Liberation Serif", serif' font-size="25.50" stroke="#000" stroke-width="0.22">2</tspan></text>
<text id="cx1" ><tspan x="499.83" y="831.20" font-family='"Liberation Serif", serif' font-size="40.00" font-style="italic" stroke="#000" stroke-width="0.55">X</tspan><tspan x="523.18" y="841.00" font-family='"Liberation Serif", serif' font-size="27.50" stroke="#000" stroke-width="0.24">1</tspan></text>
<text id="cx2" ><tspan x="496.63" y="945.40" font-family='"Liberation Serif", serif' font-size="40.00" font-style="italic" stroke="#000" stroke-width="0.55">X</tspan><tspan x="518.39" y="955.00" font-family='"Liberation Serif", serif' font-size="27.50" stroke="#000" stroke-width="0.24">2</tspan></text>
<rect id="obox" x="832.4" y="688.4" width="443.2" height="92" rx="13" ry="13" fill="#e0f4fe" stroke="#000" stroke-width="2.9"/>
<text id="otxt" transform="translate(861,750) scale(0.9496,1)" x="-0.51" y="0" font-family='"Liberation Sans", sans-serif' font-weight="bold" font-size="45.3">Thin-PID Optimizer</text>
<g id="f_obj"><text><tspan x="741.83" y="864.00" font-family='"Liberation Serif", serif' font-size="36.50" letter-spacing="1.969">min</tspan><tspan x="804.00" y="864.00" font-family='"Liberation Serif", serif' font-size="30.00"> </tspan></text><text transform="translate(807.81,864.29) scale(1.1532,0.8756)" x="0" y="0" font-family='"DejaVu Math TeX Gyre", "DejaVu Sans", serif' font-size="40.0">ℒ</text><text><tspan x="841.20" y="863.50" font-family='"Liberation Serif", serif' font-size="41.00">(</tspan><tspan x="851.63" y="864.00" font-family='"DejaVu Math TeX Gyre", "DejaVu Sans", serif' font-size="34.57">Σ</tspan><tspan x="879.67" y="850.00" font-family='"Liberation Serif", serif' font-size="24.50" letter-spacing="-0.417">off</tspan><tspan x="879.09" y="874.00" font-family='"Liberation Serif", serif' font-size="25.50" font-style="italic" stroke="#000" stroke-width="0.15">n</tspan><tspan x="893.55" y="879.60" font-family='"Liberation Serif", serif' font-size="16.50">1</tspan><tspan x="904.09" y="874.00" font-family='"Liberation Serif", serif' font-size="25.50" font-style="italic" stroke="#000" stroke-width="0.15">n</tspan><tspan x="920.27" y="879.60" font-family='"Liberation Serif", serif' font-size="16.50">2</tspan><tspan x="934.68" y="863.50" font-family='"Liberation Serif", serif' font-size="41.00">)</tspan><tspan x="948.00" y="864.00" font-family='"Liberation Serif", serif' font-size="30.00"> </tspan></text><text transform="translate(955.77,867.77) scale(0.9984,0.9505)" x="0" y="0" font-family='"DejaVu Sans Light", "DejaVu Sans", sans-serif' font-size="40.0" font-weight="200" stroke="#000" stroke-width="0.35">=</text><text><tspan x="990.00" y="864.00" font-family='"Liberation Serif", serif' font-size="30.00"> </tspan><tspan x="997.67" y="864.00" font-family='"Liberation Serif", serif' font-size="36.50" letter-spacing="0.692">log</tspan></text></g>
<rect id="fbar" x="1052" y="853.7" width="278" height="1.8" fill="#2a2a2a"/>
<path id="fabs" d="M1056.6,796 L1056.6,850 M1325,796 L1325,850 M1144.3,859.4 L1144.3,912.6 M1237,859.4 L1237,912.6" stroke="#1c1c1c" stroke-width="1.8" fill="none"/>
<g id="f_num"><text><tspan x="1064.02" y="832.60" font-family='"Liberation Serif", serif' font-size="39.00" font-style="italic">H</tspan><tspan x="1091.23" y="832.60" font-family='"DejaVu Math TeX Gyre", "DejaVu Sans", serif' font-size="34.57">Σ</tspan><tspan x="1119.51" y="841.00" font-family='"Liberation Serif", serif' font-size="26.00" font-style="italic">Y</tspan><tspan x="1140.42" y="832.60" font-family='"Liberation Serif", serif' font-size="39.00" font-style="italic">H</tspan><tspan x="1168.88" y="821.80" font-family='"DejaVu Math TeX Gyre", "DejaVu Sans", serif' font-size="28.98" stroke="#fff" stroke-width="0.90">⊤</tspan><tspan x="1192.00" y="832.60" font-family='"Liberation Serif", serif' font-size="30.00"> </tspan></text><text transform="translate(1198.33,835.20) scale(1.0064,1.0049)" x="0" y="0" font-family='"DejaVu Sans Light", "DejaVu Sans", sans-serif' font-size="40.0" font-weight="200" stroke="#000" stroke-width="0.35">+</text><text><tspan x="1231.00" y="832.60" font-family='"Liberation Serif", serif' font-size="30.00"> </tspan><tspan x="1237.23" y="832.60" font-family='"DejaVu Math TeX Gyre", "DejaVu Sans", serif' font-size="34.57">Σ</tspan><tspan x="1265.09" y="842.00" font-family='"Liberation Serif", serif' font-size="25.50" font-style="italic" stroke="#000" stroke-width="0.15">n</tspan><tspan x="1279.55" y="847.60" font-family='"Liberation Serif", serif' font-size="16.50">1</tspan><tspan x="1290.09" y="842.00" font-family='"Liberation Serif", serif' font-size="25.50" font-style="italic" stroke="#000" stroke-width="0.15">n</tspan><tspan x="1306.27" y="847.60" font-family='"Liberation Serif", serif' font-size="16.50">2</tspan></text></g>
<text id="f_den" ><tspan x="1148.83" y="895.00" font-family='"DejaVu Math TeX Gyre", "DejaVu Sans", serif' font-size="34.57">Σ</tspan><tspan x="1176.09" y="905.00" font-family='"Liberation Serif", serif' font-size="25.50" font-style="italic" stroke="#000" stroke-width="0.15">n</tspan><tspan x="1190.55" y="910.60" font-family='"Liberation Serif", serif' font-size="16.50">1</tspan><tspan x="1201.09" y="905.00" font-family='"Liberation Serif", serif' font-size="25.50" font-style="italic" stroke="#000" stroke-width="0.15">n</tspan><tspan x="1217.27" y="910.60" font-family='"Liberation Serif", serif' font-size="16.50">2</tspan></text>
<g id="f_c1"><text><tspan x="851.82" y="967.00" font-family='"Liberation Serif", serif' font-size="38.50" letter-spacing="0.098">subject to:</tspan><tspan x="1012.00" y="967.00" font-family='"Liberation Serif", serif' font-size="30.00"> </tspan><tspan x="1019.83" y="967.00" font-family='"DejaVu Math TeX Gyre", "DejaVu Sans", serif' font-size="34.57">Σ</tspan><tspan x="1048.49" y="976.60" font-family='"Liberation Serif", serif' font-size="25.50" font-style="italic" stroke="#000" stroke-width="0.15">n</tspan><tspan x="1063.55" y="982.60" font-family='"Liberation Serif", serif' font-size="16.50">1</tspan><tspan x="1078.00" y="967.00" font-family='"Liberation Serif", serif' font-size="30.00"> </tspan></text><text transform="translate(1086.03,970.77) scale(1.0304,0.9505)" x="0" y="0" font-family='"DejaVu Sans Light", "DejaVu Sans", sans-serif' font-size="40.0" font-weight="200" stroke="#000" stroke-width="0.35">=</text><text><tspan x="1120.00" y="967.00" font-family='"Liberation Serif", serif' font-size="30.00"> </tspan><tspan x="1128.83" y="967.00" font-family='"DejaVu Math TeX Gyre", "DejaVu Sans", serif' font-size="34.57">Σ</tspan><tspan x="1158.09" y="976.60" font-family='"Liberation Serif", serif' font-size="25.50" font-style="italic" stroke="#000" stroke-width="0.15">n</tspan><tspan x="1173.27" y="982.60" font-family='"Liberation Serif", serif' font-size="16.50">2</tspan><tspan x="1188.00" y="967.00" font-family='"Liberation Serif", serif' font-size="30.00"> </tspan></text><text transform="translate(1194.83,970.77) scale(1.0304,0.9505)" x="0" y="0" font-family='"DejaVu Sans Light", "DejaVu Sans", sans-serif' font-size="40.0" font-weight="200" stroke="#000" stroke-width="0.35">=</text><text><tspan x="1230.00" y="967.00" font-family='"Liberation Serif", serif' font-size="30.00"> </tspan><tspan x="1239.16" y="967.00" font-family='"Liberation Serif", serif' font-size="40.00" font-style="italic">I</tspan></text></g>
<text id="f_c2" ><tspan x="1022.23" y="1027.00" font-family='"DejaVu Math TeX Gyre", "DejaVu Sans", serif' font-size="34.57">Σ</tspan><tspan x="1052.09" y="1037.00" font-family='"Liberation Serif", serif' font-size="25.50" font-style="italic" stroke="#000" stroke-width="0.15">n</tspan><tspan x="1066.55" y="1042.60" font-family='"Liberation Serif", serif' font-size="16.50">1</tspan><tspan x="1077.09" y="1037.00" font-family='"Liberation Serif", serif' font-size="25.50" font-style="italic" stroke="#000" stroke-width="0.15">n</tspan><tspan x="1093.27" y="1042.60" font-family='"Liberation Serif", serif' font-size="16.50">2</tspan><tspan x="1112.00" y="1027.00" font-family='"Liberation Serif", serif' font-size="30.00"> </tspan><tspan x="1120.21" y="1028.72" font-family='"DejaVu Math TeX Gyre", "DejaVu Sans", serif' font-size="41.10" stroke="#fff" stroke-width="1.00">⪰</tspan><tspan x="1155.00" y="1027.00" font-family='"Liberation Serif", serif' font-size="30.00"> </tspan><tspan x="1163.50" y="1027.40" font-family='"Liberation Serif", serif' font-size="39.50">0</tspan></text>
</svg>
</body>
</html>
